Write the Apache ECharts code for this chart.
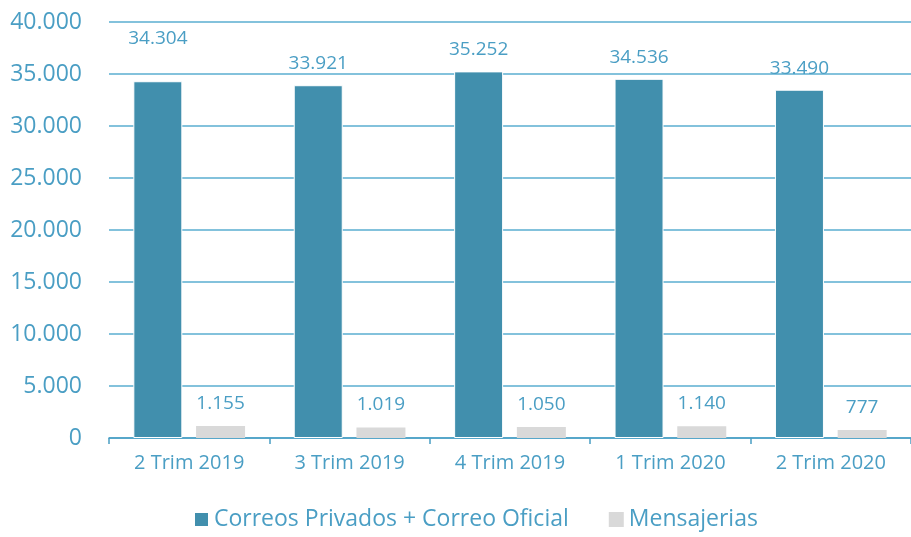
<!DOCTYPE html>
<html>
<head>
    <meta charset="utf-8">
    <title>Correos y Mensajerias</title>
    <script src="https://cdn.jsdelivr.net/npm/echarts@6/dist/echarts.min.js"></script>
    <style>
        html, body { margin: 0; padding: 0; background: #fff; }
        #chart1 { width: 911px; height: 537px; }
    </style>
</head>
<body>
<div id="chart1"></div>
<script type="text/javascript">
    // datos
    var trimestres = ['2 Trim 2019', '3 Trim 2019', '4 Trim 2019', '1 Trim 2020', '2 Trim 2020'];
    var correos = [34304, 33921, 35252, 34536, 33490];
    var mensajerias = [1155, 1019, 1050, 1140, 777];
    var nombres = ['Correos Privados + Correo Oficial', 'Mensajerias'];

    var azulTexto = '#4a9ec4';
    var fuente = 'Open Sans';

    // formato con punto de miles
    function fmt(v) {
        return String(v).replace(/\B(?=(\d{3})+(?!\d))/g, '.');
    }

    var myChart1 = echarts.init(document.getElementById('chart1'));
    var options = {
        animation: false,
        textStyle: { fontFamily: fuente },
        grid: { left: 109, top: 22, right: 0, height: 416, containLabel: false },
        legend: {
            data: nombres,
            bottom: 1,
            left: 188,
            itemWidth: 15,
            itemHeight: 15,
            itemGap: 40,
            icon: 'rect',
            textStyle: { color: azulTexto, fontSize: 23, fontFamily: fuente }
        },
        xAxis: {
            type: 'category',
            data: trimestres,
            axisLine: { lineStyle: { color: azulTexto, width: 1.5 } },
            axisTick: { show: true, length: 6, lineStyle: { color: azulTexto, width: 1.5 } },
            axisLabel: { color: azulTexto, fontSize: 20, margin: 15, fontFamily: fuente }
        },
        yAxis: {
            type: 'value',
            min: 0,
            max: 40000,
            interval: 5000,
            axisLine: { show: false },
            axisTick: { show: false },
            splitLine: { lineStyle: { color: '#5aaed0', width: 1.5 } },
            axisLabel: {
                color: azulTexto, fontSize: 23, margin: 27, fontFamily: fuente,
                formatter: function (v) { return fmt(v); }
            }
        },
        series: [{
            name: nombres[0],
            type: 'bar',
            barWidth: 49,
            barGap: '28%',
            itemStyle: { color: '#418fad', borderColor: '#ffffff', borderWidth: 1 },
            label: {
                show: true, position: 'top', distance: 12,
                color: azulTexto, fontSize: 19, fontFamily: fuente,
                formatter: function (p) { return fmt(p.value); }
            },
            data: correos.map(function (v, i) {
                return i === 0 ? { value: v, label: { offset: [0, -21] } } : v;
            })
        }, {
            name: nombres[1],
            type: 'bar',
            barWidth: 49,
            itemStyle: { color: '#d9d9d9' },
            label: {
                show: true, position: 'top', distance: 13,
                color: azulTexto, fontSize: 19, fontFamily: fuente,
                formatter: function (p) { return fmt(p.value); }
            },
            data: mensajerias
        }]
    };
    myChart1.setOption(options);
    window.addEventListener('resize', function () {
        myChart1.resize()
    })
</script>
</body>
</html>
